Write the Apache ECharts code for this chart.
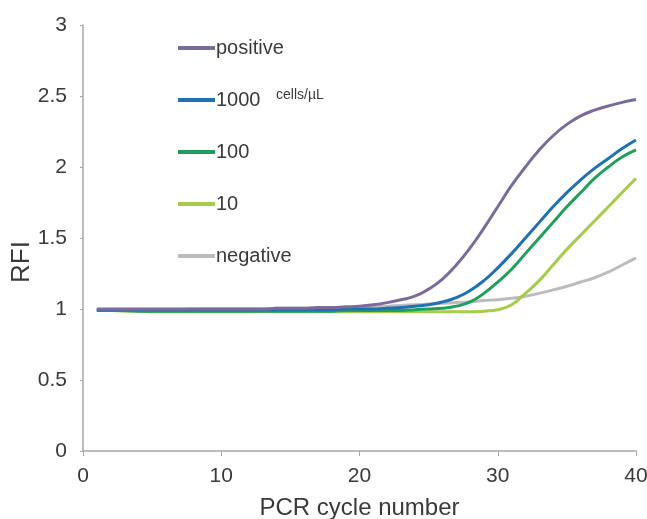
<!DOCTYPE html>
<html><head><meta charset="utf-8">
<script src="https://cdn.jsdelivr.net/npm/echarts@6/dist/echarts.min.js"></script>
<style>html,body{margin:0;padding:0;background:#fff}#c{width:647px;height:519px}</style>
</head><body><div id="c"></div>
<script>
const cycles = Array.from({length:40},(_,i)=>i+1);
const xTicks = [0,10,20,30,40];
const yTicks = [0,0.5,1,1.5,2,2.5,3];
const seriesNames = ['positive','1000','100','10','negative'];
const positive = [1.0,1.0,1.0,1.0,1.0,1.0,1.0,1.0,1.0,1.0,1.0,1.0,1.0,1.005,1.005,1.005,1.01,1.01,1.015,1.02,1.03,1.045,1.065,1.09,1.14,1.21,1.31,1.43,1.57,1.72,1.87,2.00,2.12,2.22,2.30,2.36,2.40,2.43,2.455,2.475];
const c1000 = [0.995,0.995,0.995,0.995,0.995,0.995,0.995,0.995,0.995,0.995,0.995,0.995,0.995,0.995,0.995,0.995,0.995,0.995,1.0,1.0,1.0,1.005,1.01,1.02,1.03,1.05,1.08,1.13,1.20,1.29,1.39,1.50,1.61,1.72,1.82,1.91,1.99,2.06,2.13,2.19];
const c100 = [0.99,0.99,0.99,0.985,0.985,0.985,0.985,0.985,0.985,0.985,0.985,0.985,0.985,0.985,0.985,0.985,0.985,0.985,0.99,0.99,0.99,0.99,0.99,0.995,1.0,1.005,1.02,1.05,1.11,1.19,1.28,1.39,1.50,1.61,1.72,1.82,1.92,2.00,2.07,2.12];
const c10 = [0.99,0.99,0.985,0.985,0.98,0.98,0.98,0.98,0.98,0.98,0.98,0.98,0.98,0.98,0.98,0.98,0.98,0.98,0.98,0.98,0.98,0.98,0.98,0.98,0.98,0.98,0.98,0.98,0.985,0.995,1.03,1.11,1.20,1.31,1.42,1.52,1.62,1.72,1.82,1.92];
const negative = [0.99,0.99,0.99,0.995,0.995,0.995,0.995,1.0,1.0,1.0,1.0,1.0,1.0,1.005,1.005,1.005,1.01,1.01,1.01,1.01,1.015,1.02,1.025,1.03,1.035,1.04,1.045,1.05,1.06,1.065,1.075,1.09,1.11,1.135,1.16,1.19,1.22,1.26,1.31,1.36];
const colors = ['#7b6b9c','#2070b4','#1f9e5c','#a7cb4b','#bcbcbc'];
const seriesData = [positive,c1000,c100,c10,negative];

const chart = echarts.init(document.getElementById('c'));
const font = '"Liberation Sans", Arial, sans-serif';
const txt = '#3a3a3a';
chart.setOption({
  animation:false,
  grid:{left:83,right:11,top:25,bottom:68,containLabel:false,outerBoundsMode:'none'},
  legend:{
    orient:'vertical', left:173, top:32, itemWidth:37, itemHeight:4, icon:'rect', itemGap:30,
    textStyle:{fontFamily:font,fontSize:20,color:txt,lineHeight:22,padding:[0,0,0,-4]},
    data:seriesNames
  },
  graphic:[{type:'text',left:276,top:88,style:{text:'cells/µL',fontFamily:font,fontSize:14,fill:txt}}],
  xAxis:{type:'value',min:0,max:40,interval:10,name:'PCR cycle number',nameLocation:'middle',nameGap:45,nameMoveOverlap:false,
    nameTextStyle:{fontFamily:font,fontSize:24,color:txt},
    axisLine:{lineStyle:{color:'#a8a8a8',width:1.5}},axisTick:{show:true,length:5,lineStyle:{color:'#a8a8a8'}},
    splitLine:{show:false},axisLabel:{fontFamily:font,fontSize:21,color:txt,margin:15}},
  yAxis:{type:'value',min:0,max:3,interval:0.5,name:'RFI',nameLocation:'middle',nameGap:48,nameMoveOverlap:false,
    nameTextStyle:{fontFamily:font,fontSize:26,color:txt,padding:[0,48,0,0]},
    axisLine:{show:true,lineStyle:{color:'#a8a8a8',width:1.5}},axisTick:{show:true,length:3,lineStyle:{color:'#a8a8a8'}},
    splitLine:{show:false},axisLabel:{fontFamily:font,fontSize:21,color:txt,margin:16}},
  series: seriesNames.map((n,i)=>({
    name:n,type:'line',smooth:true,showSymbol:false,
    data:cycles.map((c,j)=>[c,seriesData[i][j]]),
    lineStyle:{color:colors[i],width:3},itemStyle:{color:colors[i]},z:10-i
  }))
});
</script></body></html>
